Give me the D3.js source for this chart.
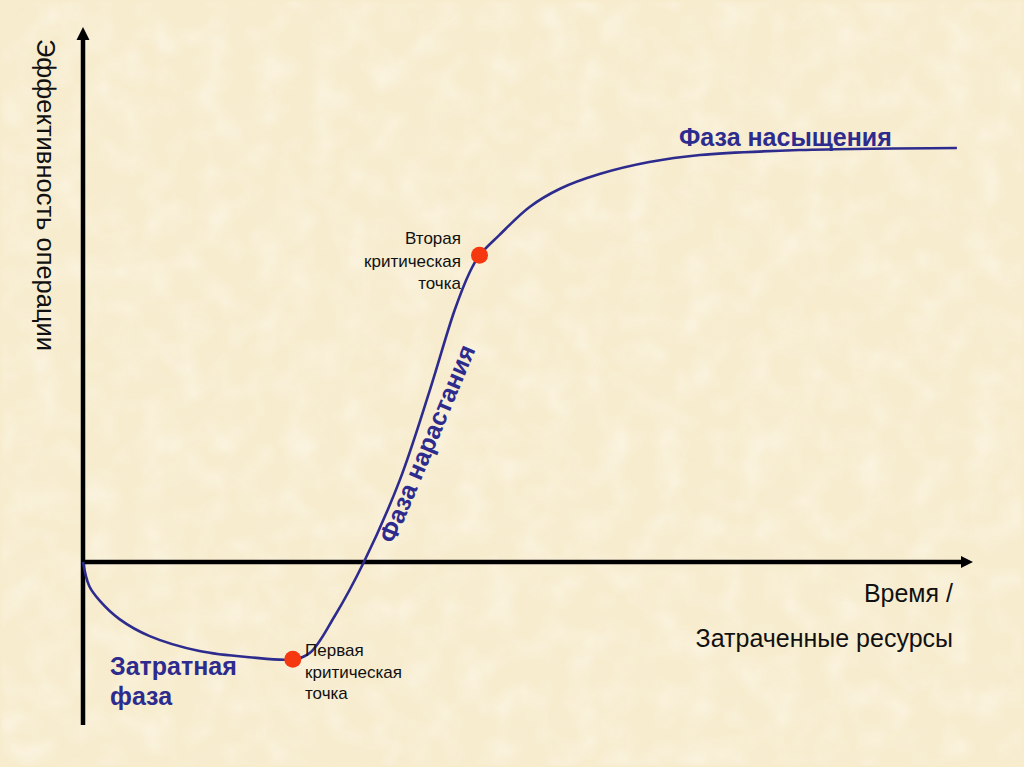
<!DOCTYPE html>
<html><head><meta charset="utf-8">
<script src="https://cdn.jsdelivr.net/npm/d3@7"></script>
<style>html,body{margin:0;padding:0;background:#F6EACA;}svg{display:block;}</style>
</head><body>
<script>
// Curve of operation effectiveness vs. resources (x: resources, y: effectiveness)
const curveX = [0, 0.7, 1.9, 4.1, 7.5, 13.1, 18.7, 23.6, 25.5, 28.3, 31.6, 35.6, 39.0, 41.8, 43.5, 44.6, 46.8, 50.2, 53.6, 58.1, 63.7, 69.4, 80.6, 98.3];
const curveY = [0, -5.8, -9.4, -13.8, -17.9, -21.5, -23.0, -23.5, -22.0, -13.1, 0, 19.6, 41.4, 60.8, 70.0, 74.1, 78.9, 85.7, 90.1, 93.7, 96.6, 98.3, 99.5, 100];
const critical = [{name: "Первая", x: 23.6, y: -23.5}, {name: "Вторая", x: 44.6, y: 74.1}];
const phaseLabels = ["Затратная фаза", "Фаза нарастания", "Фаза насыщения"];
const axisLabels = {y: "Эффективность операции", x1: "Время /", x2: "Затраченные ресурсы"};

const W = 1024, H = 767;
const x = d3.scaleLinear().domain([0, 100]).range([83, 972]);
const y = d3.scaleLinear().domain([0, 100]).range([562, 148]);

const svg = d3.select("body").append("svg").attr("width", W).attr("height", H);
const defs = svg.append("defs");
const f = defs.append("filter").attr("id", "paper").attr("x", 0).attr("y", 0).attr("width", "100%").attr("height", "100%");
f.append("feTurbulence").attr("type", "fractalNoise").attr("baseFrequency", 0.035).attr("numOctaves", 3).attr("seed", 4).attr("result", "n");
f.append("feGaussianBlur").attr("in", "n").attr("stdDeviation", 2).attr("result", "b");
f.append("feColorMatrix").attr("in", "b").attr("type", "matrix")
  .attr("values", "0 0 0 0 1  0 0 0 0 0.98  0 0 0 0 0.93  0 0 0 2.0 -0.85");
const f2 = defs.append("filter").attr("id", "paper2").attr("x", 0).attr("y", 0).attr("width", "100%").attr("height", "100%");
f2.append("feTurbulence").attr("type", "fractalNoise").attr("baseFrequency", 0.02).attr("numOctaves", 2).attr("seed", 11).attr("result", "n");
f2.append("feGaussianBlur").attr("in", "n").attr("stdDeviation", 3).attr("result", "b");
f2.append("feColorMatrix").attr("in", "b").attr("type", "matrix")
  .attr("values", "0 0 0 0 0.93  0 0 0 0 0.86  0 0 0 0 0.70  0 0 0 1.6 -0.7");
svg.append("rect").attr("width", W).attr("height", H).attr("fill", "#F7ECCE");
svg.append("rect").attr("width", W).attr("height", H).attr("filter", "url(#paper2)").attr("opacity", 0.18);
svg.append("rect").attr("width", W).attr("height", H).attr("filter", "url(#paper)").attr("opacity", 0.45);

const navy = "#2D2B8E";
const font = "'Liberation Sans', Arial, sans-serif";

// axes
const yMin = y.invert(725), yTop = y.invert(40), xEnd = x.invert(961);
svg.append("line").attr("x1", x(0)).attr("x2", x(0)).attr("y1", y(yMin)).attr("y2", y(yTop))
  .attr("stroke", "#000").attr("stroke-width", 4.5);
svg.append("path").attr("d", `M${x(0)-6.5},${y(yTop)} L${x(0)},${y(yTop)-13} L${x(0)+6.5},${y(yTop)} Z`).attr("fill", "#000");
svg.append("line").attr("x1", x(0)-2).attr("x2", x(xEnd)).attr("y1", y(0)).attr("y2", y(0))
  .attr("stroke", "#000").attr("stroke-width", 4.5);
svg.append("path").attr("d", `M${x(xEnd)},${y(0)-6} L${x(xEnd)+12},${y(0)} L${x(xEnd)},${y(0)+6} Z`).attr("fill", "#000");

// curve
const pts = curveX.map((v, i) => [v, curveY[i]]);
const line = d3.line().x(d => x(d[0])).y(d => y(d[1])).curve(d3.curveCatmullRom.alpha(0.5));
svg.append("path").attr("d", line(pts)).attr("fill", "none").attr("stroke", navy).attr("stroke-width", 2.6);

// critical points
svg.selectAll("circle.cp").data(critical).enter().append("circle")
  .attr("cx", d => x(d.x)).attr("cy", d => y(d.y)).attr("r", 8.5).attr("fill", "#F5380F");

// critical labels
const small = 17;
const lab1 = svg.append("text").attr("font-family", font).attr("font-size", small).attr("fill", "#111");
["Первая", "критическая", "точка"].forEach((t, i) => lab1.append("tspan").attr("x", 305).attr("y", 656 + i * 21.5).text(t));
const lab2 = svg.append("text").attr("font-family", font).attr("font-size", small).attr("fill", "#111").attr("text-anchor", "end");
["Вторая", "критическая", "точка"].forEach((t, i) => lab2.append("tspan").attr("x", 461).attr("y", 244 + i * 22.5).text(t));

// phase labels
const big = 25;
const t1 = svg.append("text").attr("font-family", font).attr("font-size", big).attr("font-weight", "bold").attr("fill", navy);
t1.append("tspan").attr("x", 110).attr("y", 675).text("Затратная");
t1.append("tspan").attr("x", 110).attr("y", 705).text("фаза");
svg.append("text").attr("font-family", font).attr("font-size", big).attr("font-weight", "bold").attr("fill", navy)
  .attr("transform", "translate(435,447) rotate(-67.3)").attr("text-anchor", "middle").text(phaseLabels[1]);
svg.append("text").attr("font-family", font).attr("font-size", big).attr("font-weight", "bold").attr("fill", navy)
  .attr("x", 679).attr("y", 146).text(phaseLabels[2]);

// axis labels
svg.append("text").attr("font-family", font).attr("font-size", 25.5).attr("fill", "#111")
  .attr("transform", "translate(37,39) rotate(90)").text(axisLabels.y);
svg.append("text").attr("font-family", font).attr("font-size", 25).attr("fill", "#111").attr("text-anchor", "end")
  .attr("x", 953).attr("y", 602).text(axisLabels.x1);
svg.append("text").attr("font-family", font).attr("font-size", 25).attr("fill", "#111").attr("text-anchor", "end")
  .attr("x", 953).attr("y", 647).text(axisLabels.x2);
</script>
</body></html>
